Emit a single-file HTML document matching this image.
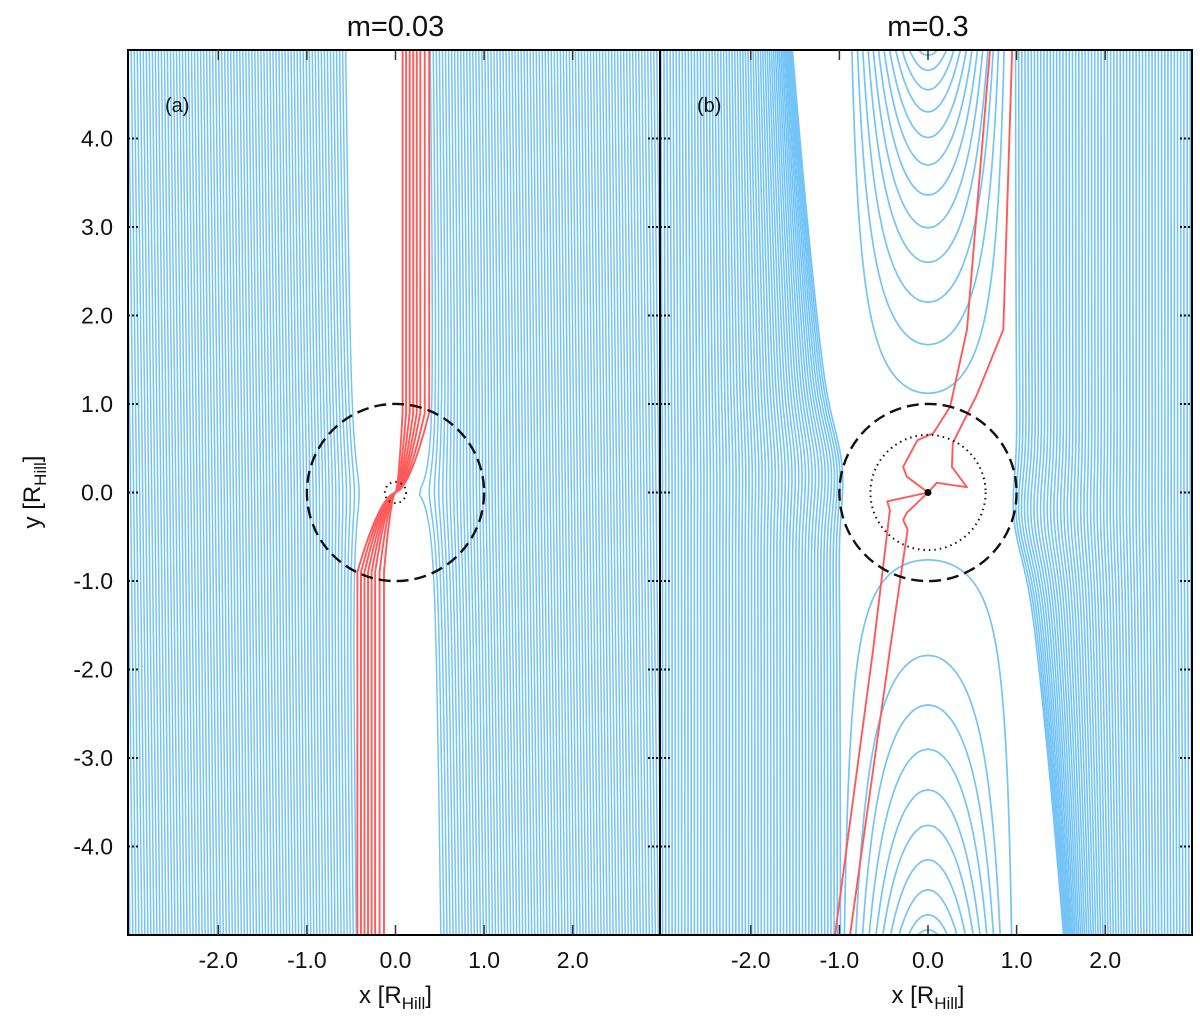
<!DOCTYPE html>
<html><head><meta charset="utf-8"><style>
html,body{margin:0;padding:0;background:#fff;}
svg{display:block;font-family:"Liberation Sans","DejaVu Sans",sans-serif;}
</style></head><body>
<svg id="chart" width="1200" height="1029" viewBox="0 0 1200 1029"></svg>
<script>
// ---- data ----
const xTicks = [-2.0, -1.0, 0.0, 1.0, 2.0];
const xTickLabels = ["-2.0", "-1.0", "0.0", "1.0", "2.0"];
const yTicks = [4.0, 3.0, 2.0, 1.0, 0.0, -1.0, -2.0, -3.0, -4.0];
const yTickLabels = ["4.0", "3.0", "2.0", "1.0", "0.0", "-1.0", "-2.0", "-3.0", "-4.0"];
const panelTitles = ["m=0.03", "m=0.3"];
const panelTags = ["(a)", "(b)"];
// left panel passing-stream parameters
const leftGapEdges = [-0.51, 0.46];
const leftStep = [0.034];
const leftPotential = [0.113];
const leftTilt = [-0.012];
// left panel red (accreted) streamlines: top x and bottom x
const leftRedTop = [0.08, 0.12, 0.16, 0.2, 0.24, 0.28, 0.33, 0.38];
const leftRedBottom = [-0.43, -0.39, -0.35, -0.31, -0.27, -0.23, -0.18, -0.13];
// right panel passing streams: gap edge |x|, line step, max downstream shift, shift decay, pinch x
const rightGapEdge = [0.98];
const rightStep = [0.036];
const rightShift = [0.55];
const rightShiftDecay = [0.6];
const rightPinchX = [0.78];
const horseshoeTopWidth = [0.95];
const horseshoeBottomWidth = [1.05];
const horseshoeTopVertices = [1.12, 1.67, 2.15, 2.6, 2.99, 3.36, 3.7, 4.01, 4.3, 4.55, 4.77, 4.94];
const horseshoeBottomVertices = [-0.76, -1.84, -2.4, -2.9, -3.36, -3.76, -4.15, -4.49, -4.77, -4.94];
const rightRedA = [[0.95,5],[0.85,1.84],[0.55,1.1],[0.35,0.7],[0.28,0.56],[0.27,0.29],[0.44,0.06],[0.1,0.11],[0,0]];
const rightRedB = [[0.70,5],[0.44,1.84],[0.25,0.97],[0.06,0.67],[-0.12,0.59],[-0.28,0.29],[-0.24,0.18],[0,0]];
const rightRedC = [[0,0],[-0.46,-0.1],[-0.43,-0.2],[-0.62,-1.78],[-1.05,-5]];
const rightRedD = [[0,0],[-0.24,-0.23],[-0.28,-0.31],[-0.23,-0.42],[-0.43,-1.78],[-0.88,-5]];
const innerRadius = [0.12, 0.65];

// ---- layout ----
const NS = "http://www.w3.org/2000/svg";
const svg = document.getElementById("chart");
const panels = [{x0:128, x1:660, cx:395.5}, {x0:660, x1:1192, cx:928}];
const pxPerUnit = 88.6;
const yTop = 50, yBot = 935, y0px = 492.5;
function sx(p, x){ return panels[p].cx + x*pxPerUnit; }
function sy(y){ return y0px - y*88.5; }
function el(tag, attrs, parent){ const e=document.createElementNS(NS,tag); for(const k in attrs) e.setAttribute(k,attrs[k]); (parent||svg).appendChild(e); return e; }

const defs = el("defs",{});
panels.forEach((p,i)=>{ const c=el("clipPath",{id:"clip"+i},defs); el("rect",{x:p.x0,y:yTop,width:p.x1-p.x0,height:yBot-yTop},c); });

function solveU(y, C, k){
  const rc = Math.cbrt(k/6);
  let lo = Math.abs(y) < rc ? Math.sqrt(rc*rc - y*y) : 0;
  let hi = 6;
  const g = u => 3*u*u + k/Math.sqrt(u*u + y*y + 1e-9) - C;
  if (g(lo) > 0) return null;
  for (let i=0;i<50;i++){ const m=(lo+hi)/2; if (g(m)>0) hi=m; else lo=m; }
  return (lo+hi)/2;
}
function pathFrom(pts){ return pts.map((q,i)=>(i?"L":"M")+q[0].toFixed(2)+","+q[1].toFixed(2)).join(""); }

function passingLinesA(g){
  const grp = el("g",{"clip-path":"url(#clip0)"},g);
  const k = leftPotential[0], tilt = leftTilt[0], step = leftStep[0];
  [[leftGapEdges[0], -1], [leftGapEdges[1], 1]].forEach(([edge, sgn])=>{
    for (let xi = edge; Math.abs(xi) < 3.4; xi += sgn*step){
      const C = 3*xi*xi;
      const pts=[];
      for (let y=5.05; y>=-5.05; y-=0.04){
        const u = solveU(y, C, k);
        if (u===null) continue;
        pts.push([sx(0, sgn*u + tilt*y), sy(y)]);
      }
      const path = el("path",{d:pathFrom(pts),fill:"none",stroke:"#74c4f7","stroke-width":1.5},grp);
      
      
    }
  });
}

function soft(t){ const d=t-0.3; return Math.pow(0.5*(d+Math.sqrt(d*d+0.25)),0.7); }
function passingLinesB(g){
  const grp = el("g",{"clip-path":"url(#clip1)"},g);
  const e = rightGapEdge[0], step = rightStep[0];
  const norm = soft(5);
  [-1, 1].forEach(sgn=>{
    for (let b = e; b < 3.6; b += step){
      const pts=[];
      const D = rightShift[0]*Math.exp(-(b-e)/rightShiftDecay[0]);
      const P = (b - rightPinchX[0])*0.4*Math.exp(-(b-e)/0.3);
      for (let y=5.05; y>=-5.05; y-=0.03){
        const yp = -sgn*y;
        const h = soft(yp)/norm;
        const pinch = P*Math.exp(-Math.pow((yp-0.3)/0.6,2));
        const u = b + D*h - pinch;
        pts.push([sx(1, sgn*u), sy(y)]);
      }
      const path = el("path",{d:pathFrom(pts),fill:"none",stroke:"#74c4f7","stroke-width":1.6},grp);
      
      
    }
  });
}

function arcs(g, vertices, ca){
  const grp = el("g",{"clip-path":"url(#clip1)"},g);
  vertices.forEach(v=>{
    const sgn = v>0?1:-1;
    const right=[], left=[];
    for (let t=Math.abs(v); t<=5.1; t+=0.01){
      const y = sgn*t;
      const u = Math.sqrt(Math.max(ca*(1 - Math.abs(v)/t), 0));
      right.push([sx(1,u), sy(y)]); left.unshift([sx(1,-u), sy(y)]);
    }
    const path = el("path",{d:pathFrom(left.concat(right)),fill:"none",stroke:"#74c4f7","stroke-width":1.7},grp);
    
    
  });
}

function redLine(g, pts){
  const path = el("path",{d:pathFrom(pts),fill:"none",stroke:"#ff5a5a","stroke-width":1.9,"stroke-linejoin":"round"},g);
  
  
}

// ---- Panel A ----
const gA = el("g",{"clip-path":"url(#clip0)"});


passingLinesA(gA);
leftRedTop.forEach((xt,i)=>{
  const xb = leftRedBottom[i];
  const pts=[];
  for (let y=5.05; y>0.9; y-=0.1) pts.push([sx(0,xt), sy(y)]);
  for (let y=0.9; y>=0; y-=0.03) pts.push([sx(0, xt*Math.pow(y/0.9,0.6)), sy(y)]);
  for (let y=0; y>=-0.9; y-=0.03) pts.push([sx(0, xb*Math.pow(-y/0.9,0.6)), sy(y)]);
  for (let y=-0.9; y>=-5.05; y-=0.1) pts.push([sx(0,xb), sy(y)]);
  redLine(gA, pts);
});

// ---- Panel B ----
const gB = el("g",{"clip-path":"url(#clip1)"});


passingLinesB(gB);
arcs(gB, horseshoeTopVertices, horseshoeTopWidth[0]);
arcs(gB, horseshoeBottomVertices, horseshoeBottomWidth[0]);
[rightRedA, rightRedB, rightRedC, rightRedD].forEach(line=>redLine(gB, line.map(q=>[sx(1,q[0]), sy(q[1])])));

// circles
[0,1].forEach(p=>{
  const hill = el("circle",{cx:sx(p,0),cy:sy(0),r:pxPerUnit,fill:"none",stroke:"#111","stroke-width":2.4,"stroke-dasharray":"12 6"});
  
  
  const inner = el("circle",{cx:sx(p,0),cy:sy(0),r:innerRadius[p]*pxPerUnit,fill:"none",stroke:"#111","stroke-width":2,"stroke-dasharray":"1.5 4"});
  
  
});
const planet = el("circle",{cx:sx(1,0),cy:sy(0),r:3.5,fill:"#000"});



// frames, ticks, labels
panels.forEach((p,i)=>{
  const fr = el("rect",{x:p.x0,y:yTop,width:p.x1-p.x0,height:yBot-yTop,fill:"none",stroke:"#000","stroke-width":2});
  
  
  xTicks.forEach((t,j)=>{
    const x = sx(i,t);
    el("line",{x1:x,x2:x,y1:yBot,y2:yBot-10,stroke:"#333","stroke-width":1.5});
    el("line",{x1:x,x2:x,y1:yTop,y2:yTop+10,stroke:"#333","stroke-width":1.5});
    const lb = el("text",{x:x,y:968,"text-anchor":"middle","font-size":23,fill:"#111"});
    lb.textContent = xTickLabels[j];
    
    
  });
  yTicks.forEach(t=>{
    const y = sy(t);
    el("line",{x1:p.x0,x2:p.x0+12,y1:y,y2:y,stroke:"#111","stroke-width":2,"stroke-dasharray":"2 2"});
    el("line",{x1:p.x1-12,x2:p.x1,y1:y,y2:y,stroke:"#111","stroke-width":2,"stroke-dasharray":"2 2"});
  });
  const tt = el("text",{x:p.cx,y:36,"text-anchor":"middle","font-size":29,fill:"#111"});
  tt.textContent = panelTitles[i];
  
  
  const tg = el("text",{x:p.x0+37,y:112,"font-size":20,fill:"#111"});
  tg.textContent = panelTags[i];
  
  
  const xl = el("text",{x:p.cx,y:1003,"text-anchor":"middle","font-size":24,fill:"#111"});
  xl.innerHTML = 'x [R<tspan font-size="17" dy="6">Hill</tspan><tspan dy="-6">]</tspan>';
  
  
});
yTicks.forEach((t,j)=>{
  const lb = el("text",{x:113,y:sy(t)+8,"text-anchor":"end","font-size":23,fill:"#111"});
  lb.textContent = yTickLabels[j];
  
  
});
const yl = el("text",{x:0,y:0,"text-anchor":"middle","font-size":24,fill:"#111",transform:"translate(40,492) rotate(-90)"});
yl.innerHTML = 'y [R<tspan font-size="17" dy="6">Hill</tspan><tspan dy="-6">]</tspan>';


</script>
</body></html>
